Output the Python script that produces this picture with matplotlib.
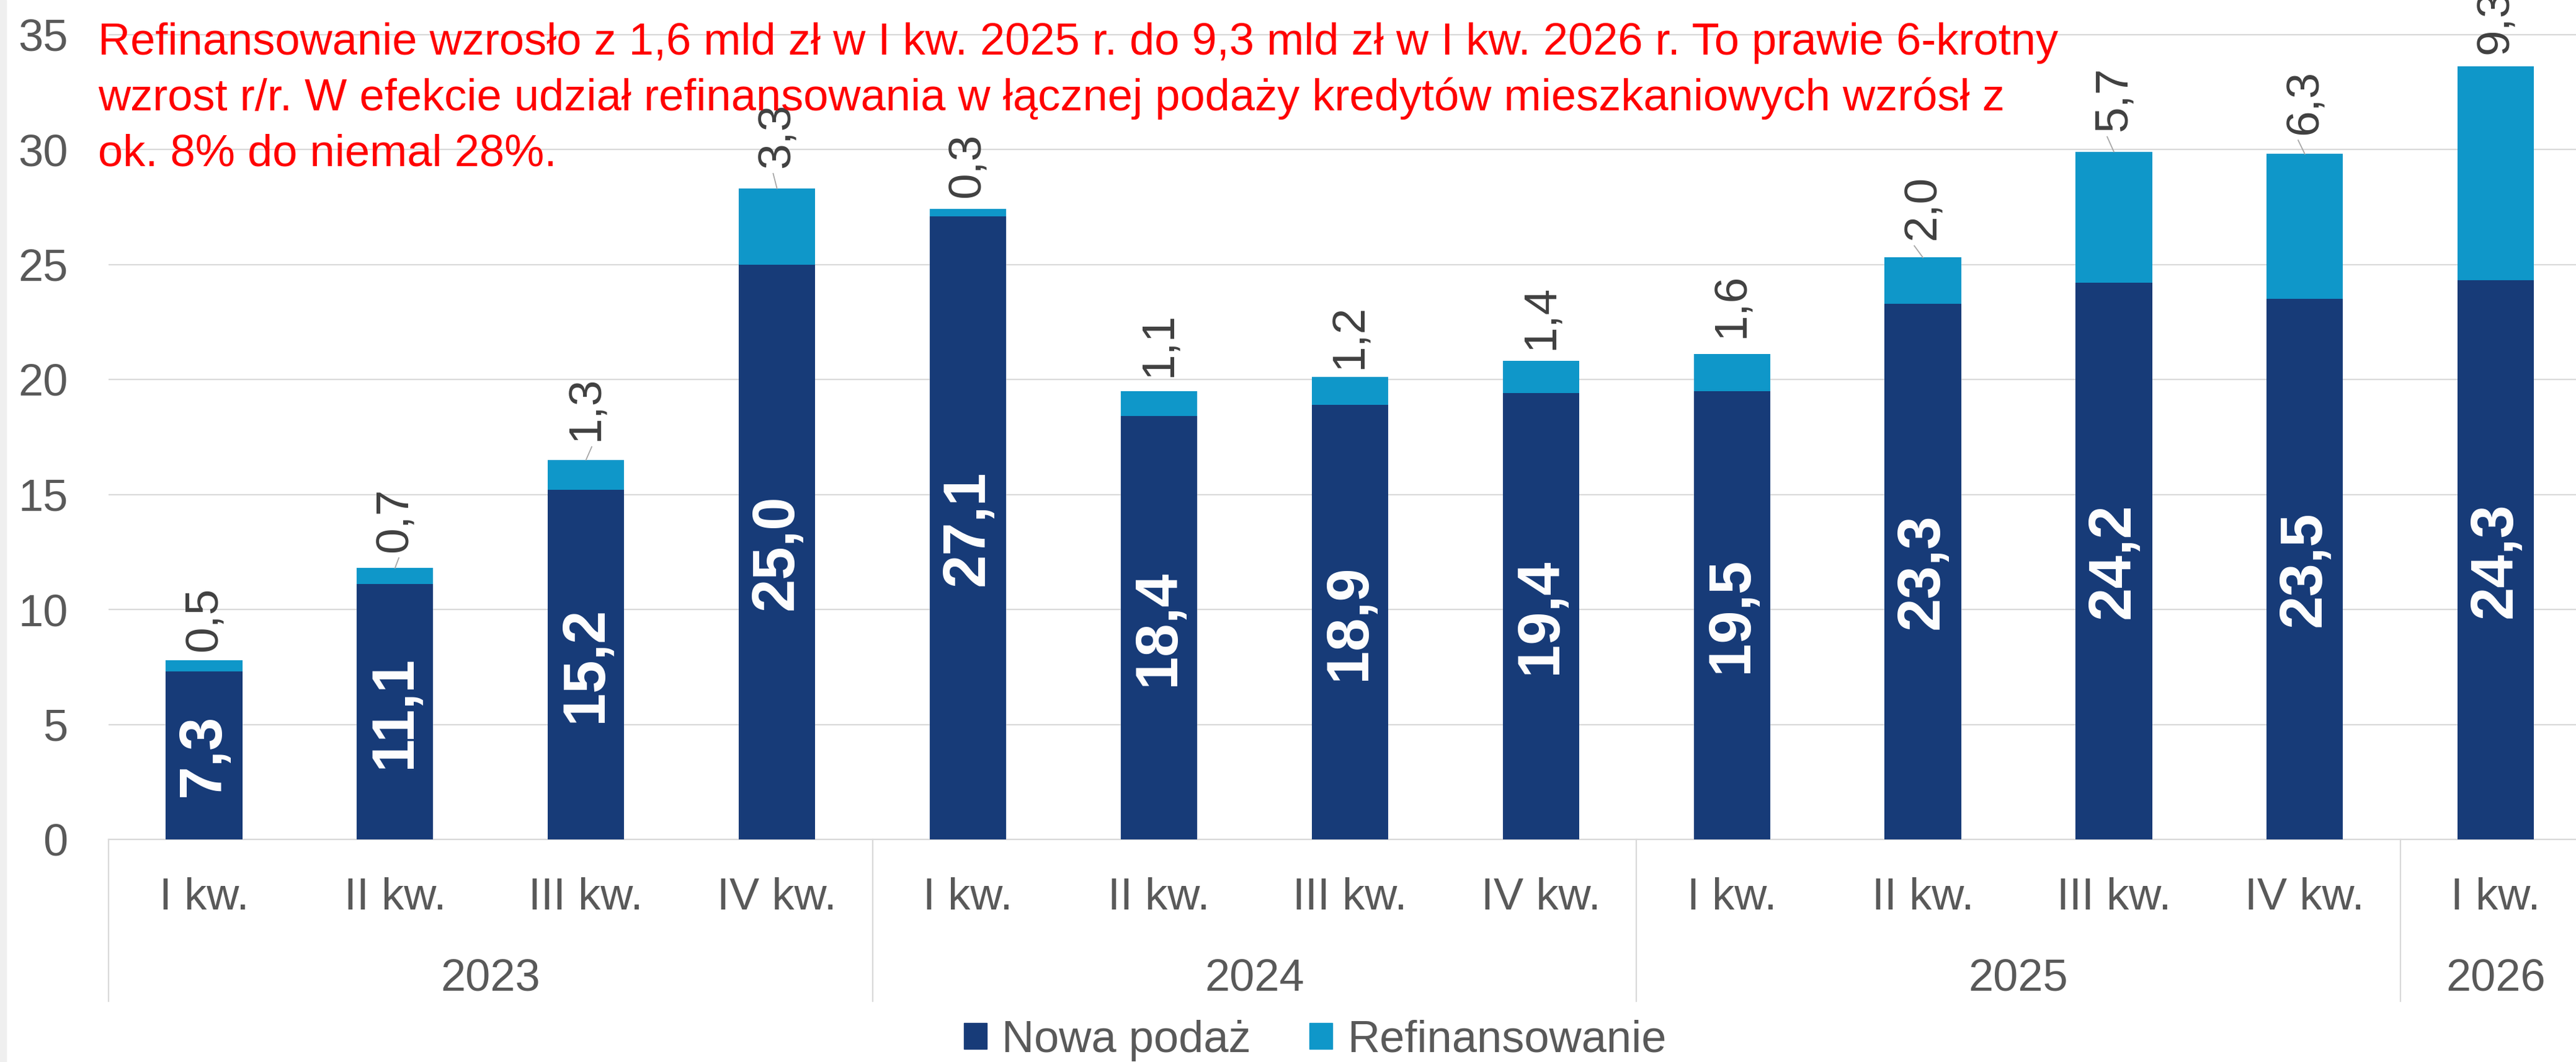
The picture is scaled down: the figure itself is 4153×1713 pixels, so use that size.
import matplotlib
matplotlib.use("Agg")
import matplotlib.pyplot as plt
from matplotlib.patches import Patch, Rectangle

plt.rcParams['font.family'] = ['Liberation Sans', 'DejaVu Sans']

# dane (mld zł)
kwartaly = ["I kw.", "II kw.", "III kw.", "IV kw.",
            "I kw.", "II kw.", "III kw.", "IV kw.",
            "I kw.", "II kw.", "III kw.", "IV kw.",
            "I kw."]
lata = ["2023", "2024", "2025", "2026"]
kw_w_roku = [4, 4, 4, 1]
nowa_podaz = [7.3, 11.1, 15.2, 25.0, 27.1, 18.4, 18.9, 19.4, 19.5, 23.3, 24.2, 23.5, 24.3]
refinansowanie = [0.5, 0.7, 1.3, 3.3, 0.3, 1.1, 1.2, 1.4, 1.6, 2.0, 5.7, 6.3, 9.3]

opis = ["Refinansowanie wzrosło z 1,6 mld zł w I kw. 2025 r. do 9,3 mld zł w I kw. 2026 r. To prawie 6-krotny",
        "wzrost r/r. W efekcie udział refinansowania w łącznej podaży kredytów mieszkaniowych wzrósł z",
        "ok. 8% do niemal 28%."]

# odstęp etykiet nad słupkami + etykiety z linią odniesienia
label_off = [0.37, 0.69, 0.82, 0.9, 0.5, 0.6, 0.35, 0.5, 0.7, 0.76, 0.9, 0.85, 0.55]
leader = {1: 0.02, 2: 0.03, 3: -0.02, 9: -0.045, 10: -0.035, 11: -0.035}

C_DARK = "#173B78"
C_LIGHT = "#0F97C9"
C_GRID = "#D9D9D9"
C_TXT = "#595959"

W, H = 4153, 1713
fig = plt.figure(figsize=(W / 100, H / 100), dpi=100)
slot = 307.9
left_px, zero_px = 175, 1354
ax = fig.add_axes([left_px / W, 1 - zero_px / H, 1 - left_px / W, zero_px / H])

x = list(range(len(nowa_podaz)))
ax.bar(x, nowa_podaz, width=0.4, color=C_DARK, zorder=3)
ax.bar(x, refinansowanie, width=0.4, bottom=nowa_podaz, color=C_LIGHT, zorder=3)

ax.set_xlim(-0.5, -0.5 + (W - left_px) / slot)
ax.set_ylim(0, zero_px / 37.1)
ax.set_yticks(range(0, 36, 5))
ax.tick_params(axis='y', length=0, pad=47, labelsize=52, labelcolor=C_TXT)
ax.set_xticks([])
ax.grid(axis='y', color=C_GRID, linewidth=1.6, zorder=0)
for s in ['top', 'right', 'left']:
    ax.spines[s].set_visible(False)
ax.spines['bottom'].set_color(C_GRID)
ax.spines['bottom'].set_linewidth(1.6)

for i in x:
    ax.text(i, nowa_podaz[i] / 2, f"{nowa_podaz[i]:.1f}".replace('.', ','),
            rotation=90, ha='center', va='center', color='white',
            fontsize=69, fontweight='bold', zorder=4)
    top = nowa_podaz[i] + refinansowanie[i]
    ax.text(i, top + label_off[i], f"{refinansowanie[i]:.1f}".replace('.', ','),
            rotation=90, ha='center', va='bottom', color='#404040',
            fontsize=54, zorder=4, clip_on=False)
    if i in leader:
        ax.plot([i, i + leader[i]], [top, top + label_off[i] - 0.25],
                color='#A6A6A6', lw=1.3, zorder=4)

# osie kategorii
tr = ax.get_xaxis_transform()
for i in x:
    ax.text(i, -113 / zero_px, kwartaly[i], transform=tr, ha='center',
            va='baseline', fontsize=52, color=C_TXT)
start = -0.5
for rok, n in zip(lata, kw_w_roku):
    ax.plot([start, start], [0, -261 / zero_px], transform=tr, color=C_GRID,
            lw=1.6, clip_on=False)
    ax.text(start + n / 2, -244 / zero_px, rok, transform=tr, ha='center',
            va='baseline', fontsize=52, color=C_TXT)
    start += n

# opis
for k, linia in enumerate(opis):
    fig.text(158 / W, 1 - (88 + 90 * k) / H, linia, ha='left', va='baseline',
             fontsize=52, color='#FF0000')

handles = [Patch(color=C_DARK, label="Nowa podaż"),
           Patch(color=C_LIGHT, label="Refinansowanie")]
fig.legend(handles=handles, loc='center', bbox_to_anchor=(2120 / W, 1 - 1678 / H),
           ncol=2, frameon=False, fontsize=52, labelcolor=C_TXT,
           handlelength=0.52, handleheight=0.52, handletextpad=0.33,
           columnspacing=1.3)

fig.patches.append(Rectangle((0, 0), 10 / W, 1, transform=fig.transFigure,
                             color='#EFEFEF', zorder=0))

fig.savefig("out.png", dpi=100)
